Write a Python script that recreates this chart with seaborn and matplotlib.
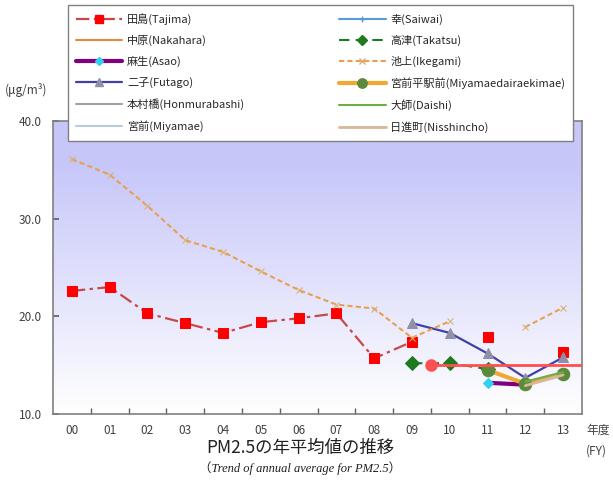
import numpy as np
import pandas as pd
import matplotlib
matplotlib.use("Agg")
import matplotlib.pyplot as plt
from matplotlib.lines import Line2D
import seaborn as sns

# Data (FY2000 - FY2013), NaN = no measurement
years = ["00", "01", "02", "03", "04", "05", "06", "07", "08", "09", "10", "11", "12", "13"]
nan = np.nan
tajima = [22.6, 23.0, 20.3, 19.3, 18.3, 19.4, 19.8, 20.3, 15.7, 17.4, nan, 17.9, nan, 16.3]
ikegami = [36.1, 34.5, 31.3, 27.8, 26.6, 24.6, 22.7, 21.2, 20.8, 17.8, 19.5, nan, 18.9, 20.9]
futago = [nan] * 9 + [19.3, 18.3, 16.2, 13.7, 15.8]
takatsu = [nan] * 9 + [15.2, 15.2, 14.6, nan, nan]
asao = [nan] * 11 + [13.2, 13.0, nan]
miyamaedaira = [nan] * 11 + [14.5, 13.1, 14.1]
nakahara = [nan] * 12 + [13.3, 14.2]
saiwai = [nan] * 12 + [13.2, 14.0]
honmurabashi = [nan] * 12 + [13.1, 14.2]
miyamae = [nan] * 12 + [13.0, 13.9]
daishi = [nan] * 12 + [13.3, 14.3]
nisshincho = [nan] * 12 + [12.9, 14.0]
standard_value = 15.0
standard_start = 9.5   # position between FY09 and FY10 (category units)

series = [
    # name, values, line color, lw, linestyle, marker, marker color, marker size
    ("田島(Tajima)", tajima, "#C84848", 1.6, (0, (6, 2, 1.5, 2)), "s", "#FF0000", 7.5),
    ("中原(Nakahara)", nakahara, "#E8883A", 1.5, "-", None, None, 0),
    ("麻生(Asao)", asao, "#800080", 3.0, "-", "D", "#30D0F0", 5),
    ("二子(Futago)", futago, "#4040A8", 1.6, "-", "^", "#9090A8", 7),
    ("本村橋(Honmurabashi)", honmurabashi, "#A0A0A0", 1.5, "-", None, None, 0),
    ("宮前(Miyamae)", miyamae, "#B8CCE0", 1.5, "-", None, None, 0),
    ("幸(Saiwai)", saiwai, "#5B9BD5", 1.5, "-", "+", "#5B9BD5", 6),
    ("高津(Takatsu)", takatsu, "#1E7A1E", 1.5, (0, (5, 3)), "D", "#1E7A1E", 7),
    ("池上(Ikegami)", ikegami, "#E8A050", 1.5, (0, (2.5, 1.5)), "x", "#D8B070", 5),
    ("宮前平駅前(Miyamaedairaekimae)", miyamaedaira, "#F0A830", 3.0, "-", "o", "#5A8A3A", 9),
    ("大師(Daishi)", daishi, "#70AD47", 1.5, "-", None, None, 0),
    ("日進町(Nisshincho)", nisshincho, "#D8B898", 2.0, "-", None, None, 0),
]

sns.set_theme(style="white")
plt.rcParams['font.family'] = ['Noto Sans CJK JP', 'DejaVu Sans']

fig = plt.figure(figsize=(6.13, 4.86), dpi=100)
ax = fig.add_axes([53 / 613, 72 / 486, 529 / 613, 293 / 486])

# lavender -> white gradient background
grad = np.linspace(0, 1, 256)
top = np.array([0.78, 0.78, 0.98])
rows = np.clip(grad / 0.85, 0, 1)[:, None] * (top - 1) + 1
img = np.repeat(rows[:, None, :], 2, axis=1)
ax.imshow(img, extent=[0, 1, 0, 1], transform=ax.transAxes, origin="lower",
          aspect="auto", zorder=0)

x = np.arange(len(years))
handles = []
for i, (name, vals, col, lw, ls, mk, mcol, ms) in enumerate(series):
    v = np.array(vals, dtype=float)
    seg = np.cumsum(np.isnan(v))
    df = pd.DataFrame({"x": x, "v": v, "seg": seg}).dropna()
    if len(df):
        sns.lineplot(data=df, x="x", y="v", units="seg", estimator=None, ax=ax,
                     color=col, lw=lw, linestyle=ls, marker=mk,
                     markerfacecolor=mcol, markeredgecolor=mcol,
                     markersize=ms, zorder=3 + i, legend=False)
    handles.append(Line2D([], [], color=col, lw=lw, linestyle=ls, marker=mk,
                          markerfacecolor=mcol, markeredgecolor=mcol,
                          markersize=ms * 0.75, label=name))

# environmental standard line
std = pd.DataFrame({"x": [standard_start, len(years) - 0.5],
                    "v": [standard_value, standard_value]})
sns.lineplot(data=std, x="x", y="v", ax=ax, color="#FF5050", lw=2, zorder=20,
             legend=False)
ax.plot([standard_start], [standard_value], "o", color="#FF5050", ms=8, zorder=21)

ax.set_xlim(-0.5, len(years) - 0.5)
ax.set_ylim(10, 40)
ax.set_xticks(x)
ax.set_xticklabels(years)
ax.set_xticks(x[:-1] + 0.5, minor=True)
ax.set_yticks([10, 20, 30, 40])
ax.set_yticklabels(["10.0", "20.0", "30.0", "40.0"])
ax.tick_params(axis="x", which="major", length=0, pad=7, labelsize=8.5, labelcolor="#404040")
ax.tick_params(axis="x", which="minor", direction="in", length=4, color="#606060", bottom=True)
ax.tick_params(axis="y", direction="in", length=4, color="#606060", left=True,
               labelsize=8.5, labelcolor="#404040", pad=8)
ax.set_xlabel("")
ax.set_ylabel("")
for s in ax.spines.values():
    s.set_color("#808080")
    s.set_linewidth(1.2)

fig.legend(handles=handles, ncol=2, loc="upper left",
           bbox_to_anchor=(68 / 613, 1 - 135 / 486, 505 / 613, 130 / 486),
           mode="expand", borderaxespad=0, fontsize=8, frameon=True, fancybox=False,
           edgecolor="#808080", framealpha=1, handlelength=4.2, labelspacing=0.92,
           columnspacing=2, borderpad=0.7, handletextpad=0.4)

fig.text(5 / 613, 1 - 90 / 486, "(μg/m³)", fontsize=8.5, color="#404040", va="center")
fig.text(586 / 613, 1 - 430 / 486, "年度", fontsize=8.5, color="#404040", va="center")
fig.text(586 / 613, 1 - 451 / 486, "(FY)", fontsize=8.5, color="#404040", va="center")
fig.text(300 / 613, 1 - 448 / 486, "PM2.5の年平均値の推移", fontsize=12.5, ha="center",
         va="center", color="#202020")
fig.text(300 / 613, 1 - 468 / 486, "（Trend of annual average for PM2.5）", fontsize=9,
         ha="center", va="center", style="italic", color="#202020",
         family=["Liberation Serif", "Noto Sans CJK JP"])

fig.savefig("out.png", dpi=100)
